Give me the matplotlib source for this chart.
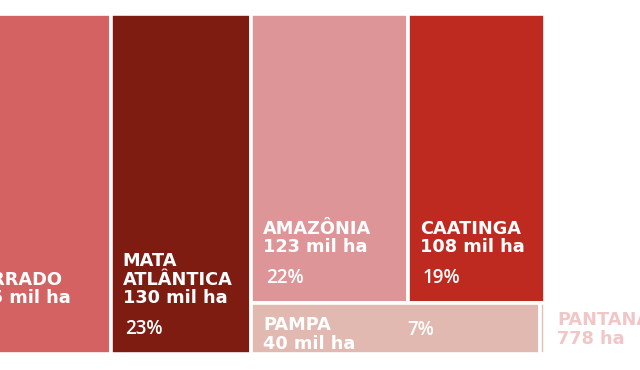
import matplotlib.pyplot as plt
from matplotlib.patches import Rectangle

# biomes and their area (mil ha)
biomes = ['CERRADO', 'MATA\nATLÂNTICA', 'AMAZÔNIA', 'CAATINGA', 'PAMPA', 'PANTANAL']
area_mil_ha = [165, 130, 123, 108, 40, 0.778]
area_labels = ['165 mil ha', '130 mil ha', '123 mil ha', '108 mil ha', '40 mil ha', '778 ha']
shares = ['29%', '23%', '22%', '19%', '7%', '']
colors = ['#D46262', '#7E1C12', '#DE9598', '#BE2A20', '#E2B9B1', '#E6BDB6']


def layout(values):
    """slice-and-dice: two full-height columns, then a block of two rows"""
    rects = []
    x = 0.0
    for v in values[:2]:
        rects.append((x, 0.0, v, 1.0))
        x += v
    block_w = sum(values[2:])
    y = 1.0
    for row in (values[2:4], values[4:6]):
        h = sum(row) / block_w
        y -= h
        xx = x
        for v in row:
            w = v / h
            rects.append((xx, y, w, h))
            xx += w
    return rects


rects = layout(area_mil_ha)

fig = plt.figure(figsize=(6.4, 3.7), dpi=100)
ax = fig.add_axes([0, 0, 1, 1])
ax.set_xlim(62.9, 654.1)
ax.set_ylim(-0.0455, 1.0396)
ax.axis('off')

for (x, y, w, h), c in zip(rects, colors):
    ax.add_patch(Rectangle((x, y), w, h, facecolor=c, edgecolor='white', linewidth=2.6))

font = dict(family='DejaVu Sans', fontweight='bold', fontsize=12.8, color='white',
            linespacing=1.05, ha='left', annotation_clip=False)
pct = dict(family=['Open Sans', 'DejaVu Sans'], fontweight='semibold', fontsize=13.5,
           color='white', va='center', annotation_clip=False)

# tall boxes: label near the bottom, share under it
for i in range(4):
    x, y, w, h = rects[i]
    dx = 34 if i == 0 else 12  # cerrado label sits a bit further in
    ax.annotate(f'{biomes[i]}\n{area_labels[i]}', xy=(x, y), xytext=(dx, 47),
                textcoords='offset pixels', va='bottom', **font)
    ax.annotate(shares[i], xy=(x, y), xytext=(15, 25), textcoords='offset pixels', **pct)

# pampa: short box
x, y, w, h = rects[4]
ax.annotate(f'{biomes[4]}\n{area_labels[4]}', xy=(x, y + h), xytext=(12, -13),
            textcoords='offset pixels', va='top', **font)
ax.annotate(shares[4], xy=(x, y + h), xytext=(156, -27), textcoords='offset pixels', **pct)

# pantanal: label outside the sliver
x, y, w, h = rects[5]
font_p = dict(font, color='#F1C6C6')
ax.annotate(f'{biomes[5]}\n{area_labels[5]}', xy=(x + w, y + h), xytext=(12, -8),
            textcoords='offset pixels', va='top', **font_p)

fig.savefig('out.png', dpi=100)
